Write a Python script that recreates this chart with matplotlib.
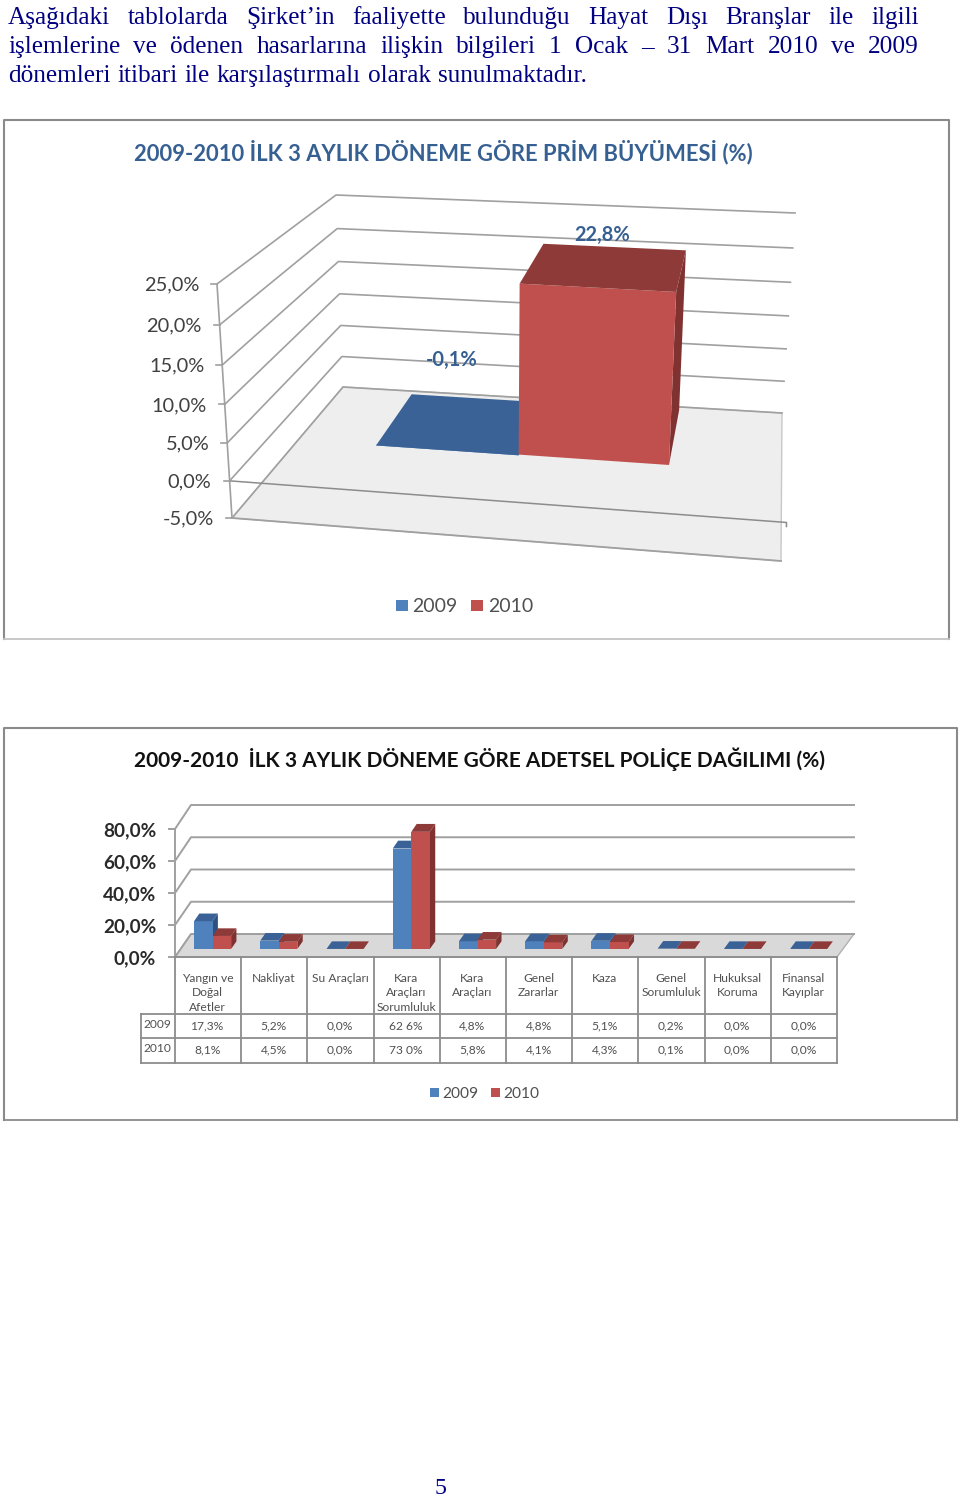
import matplotlib
matplotlib.use("Agg")
import matplotlib.pyplot as plt
from matplotlib.patches import Polygon, Rectangle

# chart 1 data
prim_years = ["2009", "2010"]
prim_values = [-0.1, 22.8]
prim_labels = ["-0,1%", "22,8%"]
prim_ticks = [-5, 0, 5, 10, 15, 20, 25]
prim_ticklabels = ["-5,0%", "0,0%", "5,0%", "10,0%", "15,0%", "20,0%", "25,0%"]

# chart 2 data
branches = [["Yangın ve", "Doğal", "Afetler"], ["Nakliyat"], ["Su Araçları"],
            ["Kara", "Araçları", "Sorumluluk"], ["Kara", "Araçları"], ["Genel", "Zararlar"],
            ["Kaza"], ["Genel", "Sorumluluk"], ["Hukuksal", "Koruma"], ["Finansal", "Kayıplar"]]
police_2009 = [17.3, 5.2, 0.0, 62.6, 4.8, 4.8, 5.1, 0.2, 0.0, 0.0]
police_2010 = [8.1, 4.5, 0.0, 73.0, 5.8, 4.1, 4.3, 0.1, 0.0, 0.0]
labels_2009 = ["17,3%", "5,2%", "0,0%", "62 6%", "4,8%", "4,8%", "5,1%", "0,2%", "0,0%", "0,0%"]
labels_2010 = ["8,1%", "4,5%", "0,0%", "73 0%", "5,8%", "4,1%", "4,3%", "0,1%", "0,0%", "0,0%"]
police_ticks = [0, 20, 40, 60, 80]
police_ticklabels = ["0,0%", "20,0%", "40,0%", "60,0%", "80,0%"]

para_lines = ["Aşağıdaki tablolarda Şirket’in faaliyette bulunduğu Hayat Dışı Branşlar ile ilgili",
              "işlemlerine ve ödenen hasarlarına ilişkin bilgileri 1 Ocak – 31 Mart 2010 ve 2009",
              "dönemleri itibari ile karşılaştırmalı olarak sunulmaktadır."]

BLUE = ("#4F81BD", "#3A6296", "#2F5180")
RED = ("#C0504D", "#8E3A38", "#7F3230")
GRID = "#a0a0a0"

fig = plt.figure(figsize=(9.6, 15), dpi=100)
ax = fig.add_axes([0, 0, 1, 1])
ax.set_xlim(0, 960)
ax.set_ylim(1500, 0)
ax.axis("off")
renderer = fig.canvas.get_renderer()


def px(n):
    return n * 0.72


def make_proj(corners, vmin, vmax, k=1.0):
    # corners: low FL FR BL BR, then high FL FR BL BR, picture positions of the box
    def proj(u, d, v):
        t = (v - vmin) / (vmax - vmin)
        t = t / (t + k * (1 - t))
        pts = []
        for c in (corners[:4], corners[4:]):
            xf = c[0][0] + u * (c[1][0] - c[0][0])
            yf = c[0][1] + u * (c[1][1] - c[0][1])
            xb = c[2][0] + u * (c[3][0] - c[2][0])
            yb = c[2][1] + u * (c[3][1] - c[2][1])
            pts.append((xf + d * (xb - xf), yf + d * (yb - yf)))
        return (pts[0][0] + t * (pts[1][0] - pts[0][0]), pts[0][1] + t * (pts[1][1] - pts[0][1]))
    return proj


def bar3d(proj, u0, u1, d0, d1, base, v, cols, z):
    f = [proj(u0, d0, base), proj(u1, d0, base), proj(u1, d0, v), proj(u0, d0, v)]
    s = [proj(u1, d0, base), proj(u1, d1, base), proj(u1, d1, v), proj(u1, d0, v)]
    t = [proj(u0, d0, v), proj(u1, d0, v), proj(u1, d1, v), proj(u0, d1, v)]
    ax.add_patch(Polygon(s, fc=cols[2], ec="none", zorder=z))
    ax.add_patch(Polygon(f, fc=cols[0], ec="none", zorder=z))
    ax.add_patch(Polygon(t, fc=cols[1], ec="none", zorder=z))


def frame(x0, y0, x1, y1, bottom):
    ax.plot([x0, x0, x1, x1], [y1, y0, y0, y1], color="#8a8a8a", lw=1.5, zorder=1)
    ax.plot([x0, x1], [y1, y1], color=bottom, lw=1.3, zorder=1)


def legend(y, size, items, fs):
    for (x, tx), name, col in zip(items, prim_years, (BLUE[0], RED[0])):
        ax.add_patch(Rectangle((x, y - size / 2), size, size, fc=col, ec="none"))
        ax.text(tx, y, name, fontsize=fs, family="Lato", color="#505050", va="center_baseline")


# paragraph, justified by hand
for i, line in enumerate(para_lines):
    words = line.split(" ")
    ts = [ax.text(0, 24 + i * 29, w, fontsize=px(25.3), family="Liberation Serif", color="#000080") for w in words]
    ws = [t.get_window_extent(renderer).width for t in ts]
    gap = (919 - 8 - sum(ws)) / (len(words) - 1) if i < 2 else 6.9
    x = 8
    for t, w in zip(ts, ws):
        t.set_x(x)
        x += w + gap

# chart 1
frame(3.5, 119.5, 948.5, 638.5, "#c4c4c4")
ax.text(443.5, 152, "2009-2010 İLK 3 AYLIK DÖNEME GÖRE PRİM BÜYÜMESİ (%)", fontsize=px(22), family="Lato",
        weight="bold", color="#376092", ha="center", va="center")

p1 = make_proj([(232, 518), (781, 561), (343, 387), (782, 413),
                (217, 284), (798, 317), (336, 195), (795, 213)], -5, 25, k=1.06)
ax.add_patch(Polygon([p1(0, 0, -5), p1(1, 0, -5), p1(1, 1, -5), p1(0, 1, -5)], fc="#eeeeee", ec="#c8c8c8", lw=1, zorder=2))
for v, lab in zip(prim_ticks, prim_ticklabels):
    a = p1(0, 0, v)
    b = p1(0, 1, v)
    c = p1(1, 1, v)
    ax.plot([a[0], b[0], c[0]], [a[1], b[1], c[1]], color=GRID, lw=1.2, zorder=3)
    ax.plot([a[0] - 6, a[0]], [a[1], a[1]], color=GRID, lw=1.2, zorder=3)
    ax.text(a[0] - 18, a[1] + 1, lab, fontsize=px(20), family="Lato", color="#404040", ha="right", va="center")
# front lines of the floor and the zero plane
a, b = p1(0, 0, -5), p1(1, 0, -5)
ax.plot([a[0], b[0]], [a[1], b[1]], color=GRID, lw=1.3, zorder=3)
a, b = p1(0, 0, 0), p1(1.005, 0, 0)
ax.plot([a[0], b[0], b[0]], [a[1], b[1], b[1] + 4], color="#8c8c8c", lw=1.1, zorder=3)
a, b = p1(0, 0, -5), p1(0, 0, 25)
ax.plot([a[0], b[0]], [a[1], b[1]], color=GRID, lw=1.2, zorder=3)

prim_u = [0.208, 0.485, 0.777]
prim_cols = [BLUE, RED]
prim_off = [(-25, -38), (-13, -12)]
for i, val in enumerate(prim_values):
    bar3d(p1, prim_u[i], prim_u[i + 1], 0.35, 0.75, 0, val, prim_cols[i], 4 + i)
    pos = p1((prim_u[i] + prim_u[i + 1]) / 2, 0.75, val)
    ax.text(pos[0] + prim_off[i][0], pos[1] + prim_off[i][1], prim_labels[i], fontsize=px(20), family="Lato",
            weight="bold", color="#376092", ha="center", va="center", zorder=8)
legend(605.5, 11.5, [(396, 412), (471, 488)], px(19.5))

# chart 2
frame(3.5, 727.5, 957, 1120, "#8a8a8a")
ax.text(480, 759, "2009-2010  İLK 3 AYLIK DÖNEME GÖRE ADETSEL POLİÇE DAĞILIMI (%)", fontsize=px(20.9), family="Lato",
        weight="bold", color="#111111", ha="center", va="center")

p2 = make_proj([(175, 957), (837, 957), (191, 934), (854, 934),
                (175, 829), (837, 829), (191, 805), (854, 805)], 0, 80)
ax.add_patch(Polygon([p2(0, 0, 0), p2(1, 0, 0), p2(1, 1, 0), p2(0, 1, 0)], fc="#d9d9d9", ec="#b0b0b0", lw=1, zorder=2))
for v, lab in zip(police_ticks, police_ticklabels):
    a = p2(0, 0, v)
    b = p2(0, 1, v)
    c = p2(1, 1, v)
    ax.plot([a[0], b[0], c[0]], [a[1], b[1], c[1]], color=GRID, lw=1.4, zorder=3)
    ax.plot([a[0] - 6, a[0]], [a[1], a[1]], color=GRID, lw=1.4, zorder=3)
    ax.text(156, a[1] + 1.5, lab, fontsize=px(19), family="Lato", weight="bold", color="#2a2a2a", ha="right", va="center")
a, b = p2(0, 0, 0), p2(0, 0, 80)
ax.plot([a[0], b[0]], [a[1], b[1]], color=GRID, lw=1.4, zorder=3)

n = len(branches)
for i in range(n):
    u0 = (i + 0.203) / n
    u1 = (i + 0.483) / n
    u2 = (i + 0.763) / n
    bar3d(p2, u0, u1, 0.35, 0.68, 0, police_2009[i], BLUE, 4 + i)
    bar3d(p2, u1, u2, 0.35, 0.68, 0, police_2010[i], RED, 4 + i)

# data table under the chart
t_col = "#8c8c8c"
y_head, y_r1, y_r2 = 1014, 1038, 1063
x_left, x_right = p2(0, 0, 0)[0], p2(1, 0, 0)[0]
ax.plot([x_left, x_right], [957, 957], color=t_col, lw=1.3, zorder=3)
for y in (y_head, y_r1, y_r2):
    ax.plot([141, x_right], [y, y], color=t_col, lw=1.3, zorder=3)
ax.plot([141, 141], [y_head, y_r2], color=t_col, lw=1.3, zorder=3)
for i in range(n + 1):
    x = p2(i / n, 0, 0)[0]
    ax.plot([x, x], [957, y_r2], color=t_col, lw=1.3, zorder=3)
for i in range(n):
    xc = p2((i + 0.5) / n, 0, 0)[0] - 0.5
    for j, w in enumerate(branches[i]):
        ax.text(xc, 978 + j * 14.7, w, fontsize=px(12), family="Lato", color="#505050", ha="center", va="center")
    ax.text(xc, 1026, labels_2009[i], fontsize=px(12), family="Lato", color="#505050", ha="center", va="center")
    ax.text(xc, 1050, labels_2010[i], fontsize=px(12), family="Lato", color="#505050", ha="center", va="center")
ax.text(143, 1024, prim_years[0], fontsize=px(12), family="Lato", color="#505050", va="center")
ax.text(143, 1048, prim_years[1], fontsize=px(12), family="Lato", color="#505050", va="center")
legend(1092.5, 9, [(430, 442), (491, 503)], px(15.5))

ax.text(441, 1488.5, "5", fontsize=px(24), family="Liberation Serif", color="#000080", ha="center", va="center")

fig.savefig("out.png", dpi=100)
